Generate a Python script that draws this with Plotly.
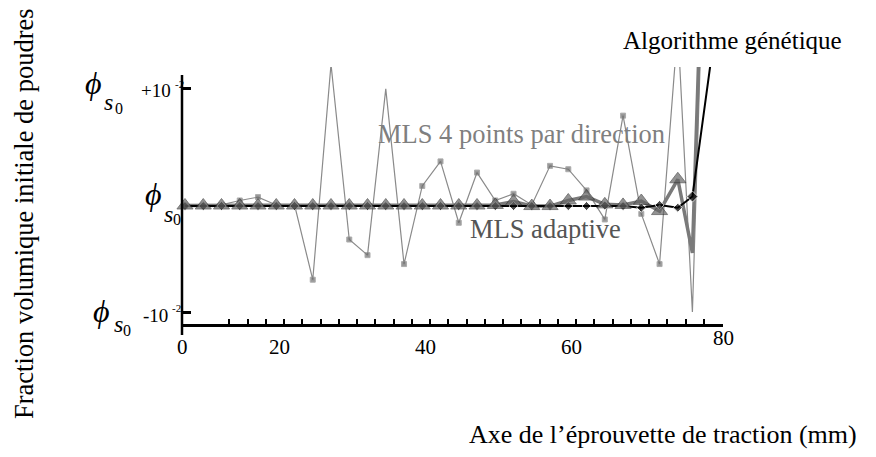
import plotly.graph_objects as go

# ---------------- data (y in units of 1e-2 around phi_s0) ----------------
x_mm = [7.0, 9.5, 12.0, 14.5, 17.0, 19.5, 22.0, 24.5, 27.0, 29.5,
        32.0, 34.5, 37.0, 39.5, 42.0, 44.5, 47.0, 49.5, 52.0, 54.5,
        57.0, 59.5, 62.0, 64.5, 67.0, 69.5, 72.0, 74.5, 76.5, 79.2]

mls4_points = [-0.045, -0.045, -0.04, 0.0, 0.03, -0.04, -0.04, -0.71, 1.22, -0.35,
               -0.49, 1.0, -0.57, 0.13, 0.35, -0.2, 0.25, 0.0, 0.06, -0.04,
               0.31, 0.28, 0.09, -0.17, 0.76, -0.12, -0.57, 1.55, -1.0, 4.7]

mls_adaptive = [-0.045, -0.045, -0.045, -0.045, -0.045, -0.045, -0.045, -0.045, -0.045, -0.045,
                -0.045, -0.045, -0.045, -0.045, -0.045, -0.045, -0.045, -0.04, -0.01, -0.05,
                -0.05, 0.0, 0.035, -0.035, -0.04, -0.005, -0.095, 0.19, -0.47, 5.0]

algo_genetique = [-0.05, -0.05, -0.05, -0.05, -0.05, -0.05, -0.05, -0.05, -0.05, -0.05,
                  -0.05, -0.05, -0.05, -0.05, -0.05, -0.05, -0.05, -0.05, -0.05, -0.05,
                  -0.05, -0.05, -0.05, -0.045, -0.05, -0.065, -0.04, -0.065, 0.035, 1.33]

x_tick_labels = ["0", "20", "40", "60", "80"]
y_tick_values = [-1, 1]

# ---------------- styles / layout ----------------
FONT = "Liberation Serif, Times New Roman, serif"
OFF = 8  # default page body margin
X_MIN, X_MAX = 6.59, 80.69
Y_MIN, Y_MAX = -1.107, 1.196
W, H = 876 - OFF, 457 - OFF
L, R, T, B = 182 - OFF, 153, 67 - OFF, 133
PW, PH = W - L - R, H - T - B

# marker sizes (markers absent at extreme points in the original)
mls4_sizes = [5] * 30
for i in (8, 11, 27, 28, 29):
    mls4_sizes[i] = 0
adapt_sizes = [14] * 30
for i in (28, 29):
    adapt_sizes[i] = 0
ga_sizes = [7] * 30
ga_sizes[28] = 8.5
ga_sizes[29] = 0


def px(xp, yp):
    """page pixel -> paper coordinates"""
    return (xp - OFF - L) / PW, (T + PH - (yp - OFF)) / PH


fig = go.Figure()
fig.add_trace(go.Scatter(x=x_mm, y=mls4_points, mode="lines+markers",
                         line=dict(color="#8a8a8a", width=1.2),
                         marker=dict(symbol="square", size=mls4_sizes, color="#6e6e6e"),
                         cliponaxis=False, showlegend=False))
fig.add_trace(go.Scatter(x=x_mm, y=mls_adaptive, mode="lines",
                         line=dict(color="#7a7a7a", width=3.5),
                         showlegend=False))
fig.add_trace(go.Scatter(x=x_mm, y=algo_genetique, mode="lines+markers",
                         line=dict(color="#000000", width=2),
                         marker=dict(symbol="diamond", size=ga_sizes, color="#000000"),
                         cliponaxis=False, showlegend=False))
fig.add_trace(go.Scatter(x=x_mm, y=mls_adaptive, mode="markers",
                         marker=dict(symbol="triangle-up", size=adapt_sizes, color="#666666",
                                     line=dict(color="#2a2a2a", width=0.8)),
                         cliponaxis=False, showlegend=False))

minor_ticks = [13.07 + 2.5 * i for i in range(28)]

fig.update_layout(
    width=W, height=H,
    margin=dict(l=L, r=R, t=T, b=B, pad=0),
    paper_bgcolor="white", plot_bgcolor="white",
    font=dict(family=FONT, color="black"),
    xaxis=dict(range=[X_MIN, X_MAX], showline=True, linecolor="black", linewidth=2.5,
               ticks="inside", tickmode="array", tickvals=minor_ticks, ticklen=5,
               tickwidth=2, tickcolor="black", showticklabels=False,
               showgrid=False, zeroline=False),
    yaxis=dict(range=[Y_MIN, Y_MAX], showline=False, ticks="inside", tickmode="array",
               tickvals=y_tick_values, ticklen=9, tickwidth=3, tickcolor="black",
               showticklabels=False, showgrid=False, zeroline=False),
)

# y axis line (taller than plot area at bottom, shorter at top)
y0p = px(0, 335)[1]
y1p = px(0, 75)[1]
fig.add_shape(type="line", xref="paper", yref="paper", x0=0, x1=0, y0=y0p, y1=y1p,
              line=dict(color="black", width=2.5), layer="above")

ann = []


def text(t, xp, yp, size, color="black", xanchor="left", angle=0):
    xx, yy = px(xp, yp)
    ann.append(dict(text=t, x=xx, y=yy, xref="paper", yref="paper", xanchor=xanchor,
                    yanchor="middle", showarrow=False, textangle=angle,
                    font=dict(family=FONT, size=size, color=color)))


# curve labels
text("Algorithme génétique", 621, 41, 25)
text("MLS 4 points par direction", 376, 134, 26.5, color="#7f7f7f")
text("MLS adaptive", 468, 229, 26.5, color="#555555")
# axis titles
text("Axe de l’éprouvette de traction (mm)", 467, 434, 26)
text("Fraction volumique initiale de poudres", 24, 214, 26.5, xanchor="center", angle=-90)

# x tick labels
x_label_pos = [X_MIN, 20, 40, 60, X_MAX]
for lab, xv in zip(x_tick_labels, x_label_pos):
    yy = 337.5 if lab == "80" else 347
    ann.append(dict(text=lab, x=xv, y=px(0, yy)[1], xref="x", yref="paper",
                    xanchor="center", yanchor="middle", showarrow=False,
                    font=dict(family=FONT, size=21, color="black")))

# y tick labels: phi_s0 groups
for (fx, fy, sx, sy, zx, zy) in [(93, 83, 108.5, 101.5, 118.5, 108.5),
                                 (153, 194, 168.3, 213.5, 176.7, 219),
                                 (101.7, 311, 118.3, 324, 126.7, 330)]:
    text("<i>ϕ</i>", fx, fy, 32, xanchor="center")
    text("<i>s</i>", sx, sy, 24, xanchor="center")
    text("0", zx, zy, 16, xanchor="center")

text("+10", 173, 90.3, 19, xanchor="right")
text("-2", 173, 84, 11)
text("-10", 170, 315, 19, xanchor="right")
text("-2", 170, 308, 11)

fig.update_layout(annotations=ann)
fig.write_html("out.html")
